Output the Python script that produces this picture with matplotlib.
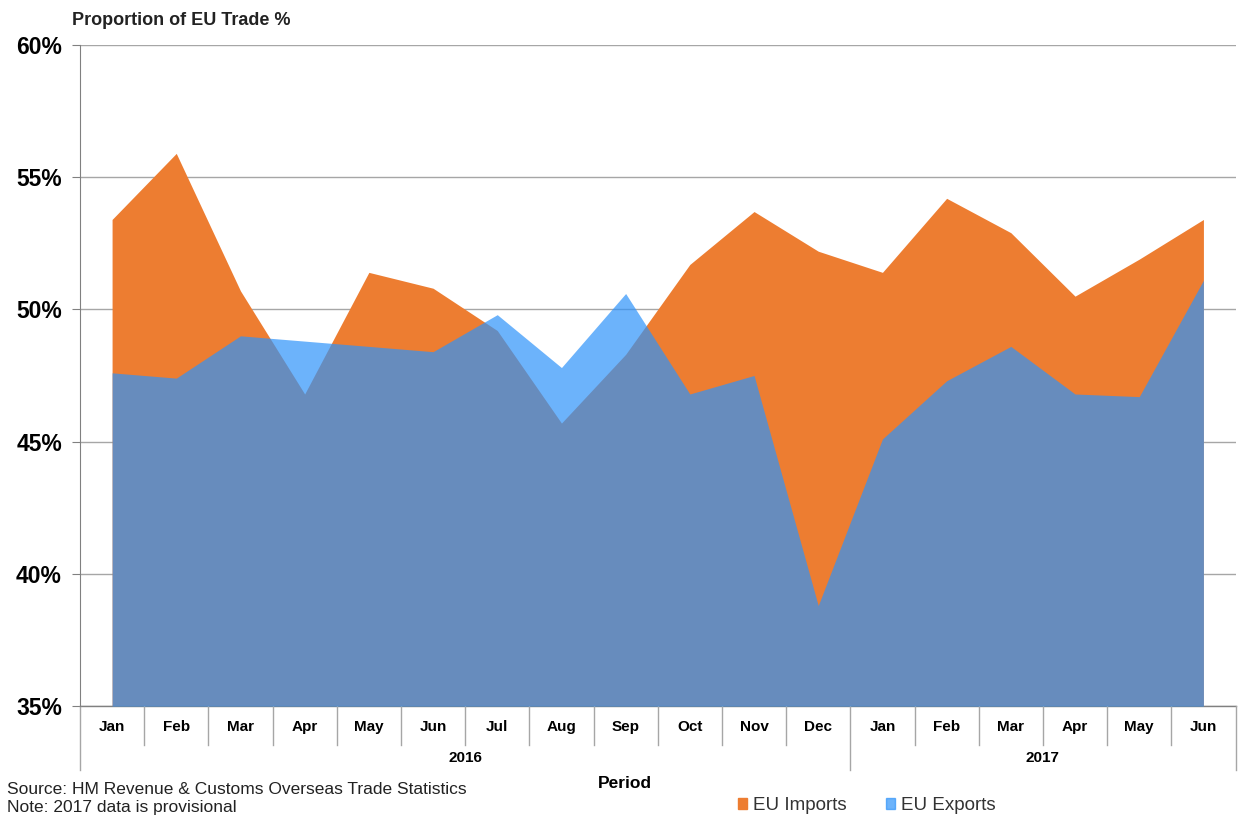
import matplotlib.pyplot as plt
import matplotlib.patches as mpatches
import numpy as np

plt.rcParams['font.family'] = ['Liberation Sans', 'DejaVu Sans']

months = ["Jan", "Feb", "Mar", "Apr", "May", "Jun", "Jul", "Aug", "Sep", "Oct", "Nov", "Dec",
          "Jan", "Feb", "Mar", "Apr", "May", "Jun"]
years = ["2016", "2017"]
year_spans = [(0, 11), (12, 17)]

eu_imports = [53.4, 55.9, 50.7, 46.8, 51.4, 50.8, 49.2, 45.7, 48.3, 51.7, 53.7, 52.2,
              51.4, 54.2, 52.9, 50.5, 51.9, 53.4]
eu_exports = [47.6, 47.4, 49.0, 48.8, 48.6, 48.4, 49.8, 47.8, 50.6, 46.8, 47.5, 38.8,
              45.1, 47.3, 48.6, 46.8, 46.7, 51.1]

orange = "#ED7D31"
blue = "#2E93FA"

fig = plt.figure(figsize=(12.38, 8.16), dpi=100)
ax = fig.add_axes([0.0646, 0.1348, 0.9334, 0.8101])

x = np.arange(len(months))
ax.fill_between(x, 35, eu_imports, color=orange, linewidth=0, zorder=2)
ax.fill_between(x, 35, eu_exports, color=blue, alpha=0.7, linewidth=0, zorder=3)

ax.set_xlim(-0.5, len(months) - 0.5)
ax.set_ylim(35, 60)
ax.set_yticks([35, 40, 45, 50, 55, 60])
ax.set_yticklabels([f"{v}%" for v in [35, 40, 45, 50, 55, 60]], fontsize=16.5, fontweight="bold")
ax.yaxis.grid(True, color="#a6a6a6", linewidth=1)
ax.set_axisbelow(True)
ax.tick_params(axis="y", length=6, color="#808080", pad=7)

for s in ["top", "right", "bottom"]:
    ax.spines[s].set_visible(False)
ax.spines["left"].set_color("#808080")

# category labels and separators
ax.set_xticks([])
tr = ax.get_xaxis_transform()
ax.plot([-0.5, len(months) - 0.5], [0, 0], color="#808080", lw=1, transform=tr, clip_on=False)
for i, m in enumerate(months):
    ax.text(i, -0.032, m, transform=tr, ha="center", va="center", fontsize=11, fontweight="bold")
bounds = {-0.5, 11.5, len(months) - 0.5}
for b in np.arange(-0.5, len(months), 1.0):
    depth = -0.097 if b in bounds else -0.059
    ax.plot([b, b], [0, depth], color="#a6a6a6", lw=1, transform=tr, clip_on=False)
for yr, (a, b) in zip(years, year_spans):
    ax.text((a + b) / 2, -0.079, yr, transform=tr, ha="center", va="center",
            fontsize=11, fontweight="bold")

fig.text(0.505, 0.04, "Period", ha="center", va="center", fontsize=12.5, fontweight="bold")
fig.text(0.058, 0.975, "Proportion of EU Trade %", ha="left", va="center", fontsize=13,
         fontweight="bold", color="#222222")
fig.text(0.006, 0.033, "Source: HM Revenue & Customs Overseas Trade Statistics",
         ha="left", va="center", fontsize=12.5, color="#222222")
fig.text(0.006, 0.011, "Note: 2017 data is provisional",
         ha="left", va="center", fontsize=12.5, color="#222222")

handles = [mpatches.Patch(color=orange, label="EU Imports"),
           mpatches.Patch(color=blue, alpha=0.7, label="EU Exports")]
fig.legend(handles=handles, loc="center", bbox_to_anchor=(0.7, 0.013), ncol=2, frameon=False,
           fontsize=13.5, handlelength=0.5, handleheight=0.5, handletextpad=0.3, columnspacing=2.1,
           labelcolor="#333333")

fig.savefig("out.png", dpi=100)
